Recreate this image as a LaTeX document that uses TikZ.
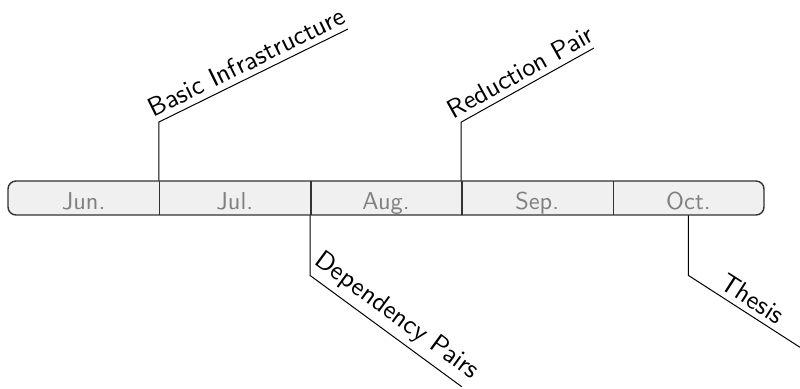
\documentclass[tikz,border=0pt]{standalone}
\usepackage{fontspec}
% the 10pt design of Latin Modern Sans, scaled up, for a slightly heavier stroke
\newfontfamily\labelsans[Extension=.otf]{lmsans10-regular}
\definecolor{barfill}{HTML}{F0F0F0}
\definecolor{barline}{HTML}{333333}
\definecolor{monthgray}{HTML}{808080}
\begin{document}
\begin{tikzpicture}[x=0.5pt,y=-0.5pt,
  monthbox/.style={rectangle, inner sep=0pt, minimum width=75.6pt, minimum height=17pt,
    text height=13pt, text depth=2pt, text=monthgray,
    font=\labelsans\fontsize{12.2}{14}\selectfont},
  barframe/.style={draw=barline, fill=barfill, line width=0.7pt, rounded corners=4pt},
  divider/.style={draw=barline, line width=0.7pt},
  milestone/.style={draw=black, line width=0.5pt},
  mlabel/.style={midway, above, sloped, inner sep=2.8pt,
    font=\labelsans\fontsize{13.2}{15}\selectfont}]
\useasboundingbox (0,0) rectangle (800,388);
\clip (0,0) rectangle (800,388);

% timeline bar
\draw[barframe] (8,181) rectangle (764,215);
\node[monthbox] (jun) at (83.6,198) {Jun.};
\node[monthbox] (jul) at (234.8,198) {Jul.};
\node[monthbox] (aug) at (386.0,198) {Aug.};
\node[monthbox] (sep) at (537.2,198) {Sep.};
\node[monthbox] (oct) at (688.4,198) {Oct.};
\draw[divider] (jun.north east) -- (jun.south east);
\draw[divider] (jul.north east) -- (jul.south east);
\draw[divider] (aug.north east) -- (aug.south east);
\draw[divider] (sep.north east) -- (sep.south east);

% milestones
\coordinate (infraEnd) at (348,29);
\coordinate (redEnd) at (594,48);
\coordinate (depEnd) at (461.7,386.7);
\coordinate (thesisEnd) at (800,347.3);

\draw[milestone] (jul.north west) -- ++(0,-58.5) coordinate (infraCorner)
  -- node[mlabel] {Basic Infrastructure} (infraEnd);
\draw[milestone] (sep.north west) -- ++(0,-58.5) coordinate (redCorner)
  -- node[mlabel] {Reduction Pair} (redEnd);
\draw[milestone] (aug.south west) -- ++(0,60) coordinate (depCorner)
  -- node[mlabel] {Dependency Pairs} (depEnd);
\draw[milestone] (oct.south) -- ++(0,60) coordinate (thesisCorner)
  -- node[mlabel] {Thesis} (thesisEnd);
\end{tikzpicture}
\end{document}
